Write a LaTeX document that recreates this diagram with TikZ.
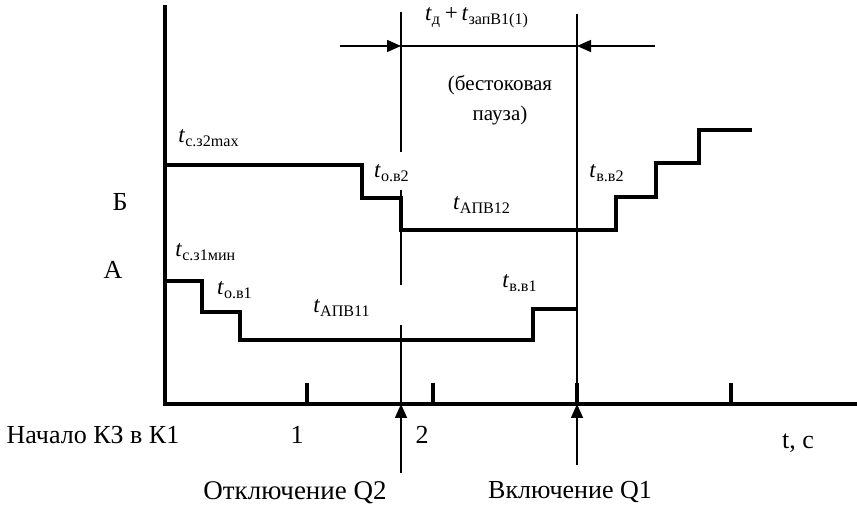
\documentclass[tikz,border=0pt]{standalone}
\usepackage{fontspec}
\setmainfont{Liberation Serif}
\usetikzlibrary{arrows.meta}
\newcommand{\tlab}[1]{\textit{t}\textsubscript{#1}}

\begin{document}
\begin{tikzpicture}[x=0.5pt,y=-0.5pt,
ax/.style={line width=2pt},
crv/.style={line width=2pt,line join=miter},
thn/.style={line width=0.7pt},
arr/.style={-{Triangle[length=7pt,width=6pt]},line width=0.7pt},
lbl/.style={font=\fontsize{11.5}{15}\selectfont,inner sep=1pt},
txt/.style={font=\fontsize{10.5}{15}\selectfont,inner sep=1pt},
big/.style={font=\fontsize{13}{15}\selectfont,inner sep=1pt}
]
\useasboundingbox (0,0) rectangle (857,507);
% axes
\coordinate (top) at (165,5);
\coordinate (o) at (165,404);
\coordinate (tend) at (857,404);
\draw[ax] (top) -- (o) -- (tend);
\foreach \x in {307,433,577,731}
  \draw[ax] (\x,383) -- (\x,404);
% time marks
\coordinate (v1a) at (401,12);
\coordinate (v1b) at (401,404);
\coordinate (v2a) at (577,14);
\coordinate (v2b) at (577,404);
\draw[thn] (v1a) -- (401,152) (401,190) -- (401,285) (401,325) -- (v1b);
\draw[thn] (v2a) -- (v2b);
% dead time
\coordinate (pl) at (340,46);
\coordinate (pr) at (655,46);
\draw[arr] (pl) -- (v1a |- pl);
\draw[arr] (pr) -- (v2a |- pr);
\draw[thn] (v1a |- pl) -- (v2a |- pr);
\node[lbl] (dt) at (477,18) {\tlab{д}\,+\,\tlab{запВ1(1)}};
\node[txt,align=center] (pause) at (500,100) {(бестоковая\\пауза)};
% protection B
\draw[crv] (165,165) -- (362,165) -- (362,198) -- (401,198) -- (401,230) -- (616,230)
  -- (616,197) -- (656,197) -- (656,163) -- (699,163) -- (699,130) -- (752,130);
% protection A
\draw[crv] (165,281) -- (202,281) -- (202,312) -- (240,312) -- (240,340) -- (533,340)
  -- (533,309) -- (577,309);
% labels
\node[lbl,anchor=west] (sz2) at (176,138) {\tlab{с.з2max}};
\node[lbl] (ov2) at (392,173) {\tlab{о.в2}};
\node[lbl] (apv12) at (482,205) {\tlab{АПВ12}};
\node[lbl] (vv2) at (607,173) {\tlab{в.в2}};
\node[lbl,anchor=west] (sz1) at (173,252) {\tlab{с.з1мин}};
\node[lbl] (ov1) at (235,290) {\tlab{о.в1}};
\node[lbl] (apv11) at (342,308) {\tlab{АПВ11}};
\node[lbl] (vv1) at (520,283) {\tlab{в.в1}};
\node[big] (b) at (120,202) {Б};
\node[big] (a) at (113,270) {А};
\node[big] (n1) at (297,435) {1};
\node[big] (n2) at (422,435) {2};
\node[big] (start) at (93,435) {Начало КЗ в К1};
\node[big] (tc) at (798,443) {t, с};
\node[big,font=\fontsize{13.5}{15}\selectfont] (q2) at (295,493) {Отключение Q2};
\node[big] (q1) at (570,492) {Включение Q1};
% switching events
\coordinate (q2a) at (401,473);
\coordinate (q1a) at (577,465);
\draw[arr] (q2a) -- (v1b);
\draw[arr] (q1a) -- (v2b);
\end{tikzpicture}
\end{document}
